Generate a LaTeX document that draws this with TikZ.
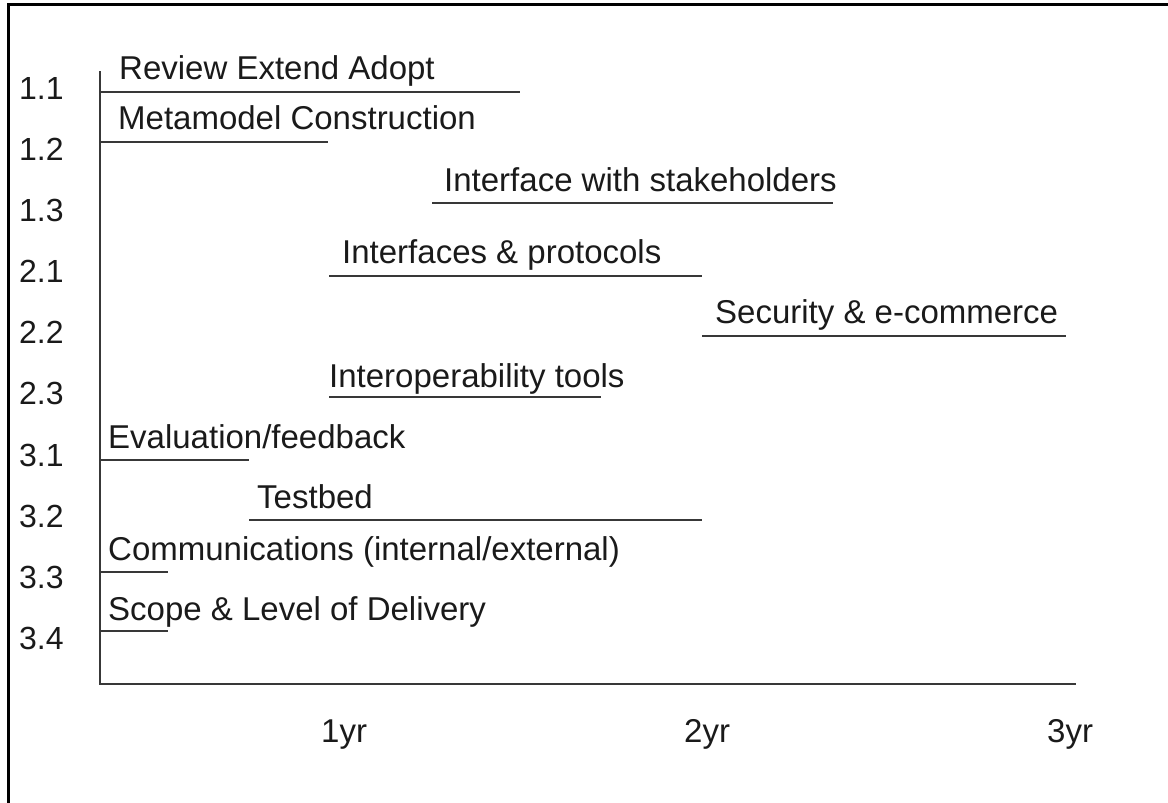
\documentclass[tikz,border=0pt]{standalone}
\usepackage{fontspec}
\setmainfont{Liberation Sans}
\definecolor{ink}{HTML}{1A1A1A}
\definecolor{barline}{HTML}{383838}
\tikzset{
  frameline/.style={draw=black, line width=2.6pt},
  axisline/.style={draw=barline, line width=2pt},
  bar/.style={draw=barline, line width=2pt},
  tasklabel/.style={anchor=base west, inner sep=0pt, text=ink, font=\fontsize{33}{40}\selectfont},
  rowlabel/.style={anchor=base west, inner sep=0pt, text=ink, font=\fontsize{32}{38}\selectfont},
  yearlabel/.style={anchor=base west, inner sep=0pt, text=ink, font=\fontsize{33}{40}\selectfont},
}
\begin{document}
\begin{tikzpicture}[x=1pt, y=-1pt]
\useasboundingbox (0,0) rectangle (1168,803);

% partial frame (top and left edges)
\coordinate (ftl) at (8.5,4.5);
\coordinate (ftr) at (1168,4.5);
\coordinate (fbl) at (8.5,803);
\draw[frameline] (ftr) -- (ftl) -- (fbl);

% axes
\coordinate (ytop) at (100,71);
\coordinate (origin) at (100,684);
\coordinate (xend) at (1076,684);
\draw[axisline] (ytop) -- (origin) -- (xend);

% row numbers
\node[rowlabel] (r11) at (19,99)  {1.1};
\node[rowlabel] (r12) at (19,160) {1.2};
\node[rowlabel] (r13) at (19,221) {1.3};
\node[rowlabel] (r21) at (19,282) {2.1};
\node[rowlabel] (r22) at (19,343) {2.2};
\node[rowlabel] (r23) at (19,404) {2.3};
\node[rowlabel] (r31) at (19,466) {3.1};
\node[rowlabel] (r32) at (19,527) {3.2};
\node[rowlabel] (r33) at (19,588) {3.3};
\node[rowlabel] (r34) at (19,649) {3.4};

% time axis labels
\node[yearlabel] (y1) at (321,742)  {1yr};
\node[yearlabel] (y2) at (684,742)  {2yr};
\node[yearlabel] (y3) at (1047,742) {3yr};

% task bars: start and end of each activity
\coordinate (s11) at (100,92);  \coordinate (e11) at (520,92);
\coordinate (s12) at (100,142); \coordinate (e12) at (328,142);
\coordinate (s13) at (432,203); \coordinate (e13) at (833,203);
\coordinate (s21) at (329,276); \coordinate (e21) at (702,276);
\coordinate (s22) at (702,336); \coordinate (e22) at (1066,336);
\coordinate (s23) at (329,397); \coordinate (e23) at (601,397);
\coordinate (s31) at (100,460); \coordinate (e31) at (249,460);
\coordinate (s32) at (249,520); \coordinate (e32) at (702,520);
\coordinate (s33) at (100,572); \coordinate (e33) at (168,572);
\coordinate (s34) at (100,631); \coordinate (e34) at (168,631);

\draw[bar] (s11) -- (e11);
\draw[bar] (s12) -- (e12);
\draw[bar] (s13) -- (e13);
\draw[bar] (s21) -- (e21);
\draw[bar] (s22) -- (e22);
\draw[bar] (s23) -- (e23);
\draw[bar] (s31) -- (e31);
\draw[bar] (s32) -- (e32);
\draw[bar] (s33) -- (e33);
\draw[bar] (s34) -- (e34);

% task names
\node[tasklabel] (t11) at (119,79)  {Review Extend Adopt};
\node[tasklabel] (t12) at (118,129) {Metamodel Construction};
\node[tasklabel] (t13) at (444,191) {Interface with stakeholders};
\node[tasklabel] (t21) at (342,263) {Interfaces \& protocols};
\node[tasklabel] (t22) at (715,323) {Security \& e-commerce};
\node[tasklabel] (t23) at (329,387) {Interoperability tools};
\node[tasklabel] (t31) at (108,448) {Evaluation/feedback};
\node[tasklabel] (t32) at (257,508) {Testbed};
\node[tasklabel] (t33) at (108,560) {Communications (internal/external)};
\node[tasklabel] (t34) at (108,620) {Scope \& Level of Delivery};
\end{tikzpicture}
\end{document}
